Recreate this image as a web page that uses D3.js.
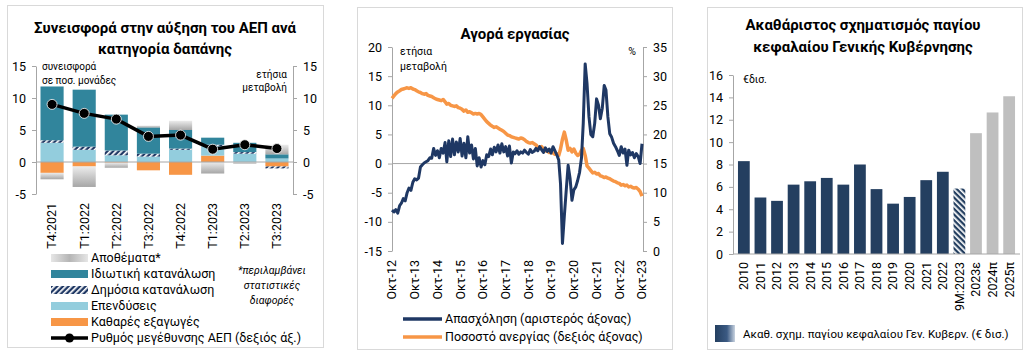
<!DOCTYPE html>
<html>
<head>
<meta charset="utf-8">
<script src="https://cdn.jsdelivr.net/npm/d3@7"></script>
<style>
  body { margin: 0; background: #fff; }
  text { font-family: Roboto, "Noto Sans", sans-serif; fill: #000; }
</style>
</head>
<body>
<svg id="chart" width="1029" height="353"></svg>
<script>
// ---- panel 1: contributions to GDP growth
const quarters = ['T4:2021', 'T1:2022', 'T2:2022', 'T3:2022', 'T4:2022', 'T1:2023', 'T2:2023', 'T3:2023'];
const netExports = [-1.7, -0.7, -0.1, -1.3, -2.0, 1.0, 0.0, -0.7];
const investment = [3.0, 1.9, 1.05, 0.85, 1.9, 1.5, 1.3, 0.55];
const publicCons = [0.4, 0.5, 0.75, 0.45, 0.2, 0.2, 0.25, -0.3];
const privateCons = [8.4, 8.9, 5.6, 4.1, 2.9, 1.1, 1.45, 0.65];
const inventories = [-1.0, -3.2, -0.8, 0.3, 1.45, -1.8, -0.25, 1.5];
const gdpGrowth = [9.0, 7.6, 6.7, 4.0, 4.2, 2.0, 2.7, 2.1];

// ---- panel 2: labour market, monthly Oct-12 .. Oct-23
const employment = [
  -8.0, -8.3, -7.9, -8.5, -7.2, -6.8, -6.0, -6.4, -5.0, -4.2, -4.6, -3.2,
  -2.6, -2.8, -2.5, -0.6, -0.2, 0.1, 0.3, 0.5, 1.0, 0.9, 2.6, 1.4,
  2.2, 1.0, 2.6, 1.8, 3.6, 0.3, 3.9, 1.2, 4.2, 1.5, 3.7, 2.0,
  4.3, 1.3, 3.5, 1.0, 4.6, 1.8, 3.2, 0.8, 2.6, -0.4, 1.0, -0.6,
  0.5, -0.2, 1.5, 1.2, 2.5, 1.5, 2.8, 2.0, 3.2, 1.8, 3.4, 2.0,
  2.9, 1.3, 3.0, 0.1, 2.0, 1.7, 2.2, 1.6, 2.0, 1.8, 2.3, 1.9,
  1.6, 2.4, 1.9, 2.1, 2.6, 2.2, 2.9, 2.4, 1.9, 2.7, 2.1, 2.5,
  1.8, 2.9, 2.2, 1.5, 0.6, -3.5, -13.7, -9.0, -4.5, -0.3, -2.5, -6.3,
  -4.5, -4.0, -2.9, -1.5, 1.0, 6.9, 17.1, 13.7, 8.0, 5.0, 4.6, 6.9,
  11.1, 10.0, 7.7, 9.5, 13.4, 12.6, 8.0, 5.1, 4.5, 3.5, 2.9, 2.2,
  1.4, 2.9, 1.8, 2.5, -0.3, 2.3, 1.5, 1.9, 1.0, 1.7, 1.2, 0.0,
  3.4
];
const unemployment = [
  26.2, 26.6, 27.0, 27.3, 27.5, 27.7, 27.8, 27.9, 28.0, 27.9, 28.0, 27.8,
  27.7, 27.5, 27.3, 27.2, 27.0, 26.9, 27.0, 26.7, 26.6, 26.5, 26.3, 26.1,
  26.0, 25.9, 25.8, 26.0, 25.6, 25.2, 25.3, 25.0, 24.9, 24.8, 24.9, 24.6,
  24.5, 24.3, 24.0, 24.2, 23.8, 23.9, 23.7, 23.5, 23.6, 23.5, 23.6, 23.4,
  23.0, 22.6, 22.2, 21.9, 21.6, 21.4, 21.2, 21.3, 21.1, 20.9, 20.7, 20.5,
  20.2, 19.9, 19.8, 19.6, 19.5, 19.4, 19.3, 19.2, 19.4, 19.3, 19.1, 18.8,
  18.6, 18.5, 18.6, 18.4, 18.2, 17.8, 17.6, 17.9, 17.5, 17.2, 17.1, 16.9,
  17.0, 16.8, 16.6, 16.7, 16.4, 17.5, 19.2, 20.4, 19.0, 17.3, 17.6, 17.0,
  17.5, 16.8, 16.4, 16.6, 17.3, 17.6, 16.4, 14.6, 14.2, 13.8, 13.4, 13.5,
  13.2, 13.3, 12.9, 12.8, 12.6, 12.7, 12.5, 12.4, 12.2, 12.0, 11.9, 11.7,
  11.6, 11.3, 11.4, 11.2, 11.3, 11.0, 11.1, 10.9, 10.8, 10.9, 10.6, 10.2,
  9.4
];
const labourTickYears = [2012, 2013, 2014, 2015, 2016, 2017, 2018, 2019, 2020, 2021, 2022, 2023];

// ---- panel 3: general government GFCF
const capexLabels = ['2010', '2011', '2012', '2013', '2014', '2015', '2016', '2017', '2018',
  '2019', '2020', '2021', '2022', '9M:2023', '2023ε', '2024π', '2025π'];
const capexValues = [8.3, 5.05, 4.75, 6.2, 6.5, 6.8, 6.2, 8.0, 5.8, 4.5, 5.1, 6.6, 7.35, 5.85, 10.8, 12.65, 14.1];

const svg = d3.select('#chart');
svg.append('rect').attr('width', 1029).attr('height', 353).attr('fill', '#fff');
const defs = svg.append('defs');

const hatch = (id, angle, bg) => {
  const p = defs.append('pattern').attr('id', id)
    .attr('patternUnits', 'userSpaceOnUse')
    .attr('width', 4).attr('height', 4)
    .attr('patternTransform', `rotate(${angle})`);
  p.append('rect').attr('width', 4).attr('height', 4).attr('fill', bg);
  p.append('rect').attr('width', 1.7).attr('height', 4).attr('fill', '#fff');
};
hatch('pubHatch', 45, '#1F3864');
hatch('capHatch', -45, '#243F60');

const grayGrad = defs.append('linearGradient').attr('id', 'grayGrad')
  .attr('x1', 0).attr('y1', 0).attr('x2', 0).attr('y2', 1);
grayGrad.append('stop').attr('offset', '0%').attr('stop-color', '#ececec');
grayGrad.append('stop').attr('offset', '100%').attr('stop-color', '#a6a6a6');

const grayGradH = defs.append('linearGradient').attr('id', 'grayGradH');
grayGradH.append('stop').attr('offset', '0%').attr('stop-color', '#e6e6e6');
grayGradH.append('stop').attr('offset', '50%').attr('stop-color', '#b5b5b5');
grayGradH.append('stop').attr('offset', '100%').attr('stop-color', '#e6e6e6');

const navyGrad = defs.append('linearGradient').attr('id', 'navyGrad');
navyGrad.append('stop').attr('offset', '0%').attr('stop-color', '#243F60');
navyGrad.append('stop').attr('offset', '60%').attr('stop-color', '#3b5a83');
navyGrad.append('stop').attr('offset', '100%').attr('stop-color', '#c9d3e0');

const axisGray = '#a6a6a6';
const styleAxis = g => {
  g.select('.domain').attr('stroke', axisGray);
  g.selectAll('.tick line').attr('stroke', axisGray);
  g.selectAll('.tick text').style('font-size', '12.5px').attr('fill', '#000');
};

// ================= panel 1 =================
const p1 = svg.append('g');
p1.append('rect').attr('x', 7.5).attr('y', 5.5).attr('width', 316).attr('height', 342)
  .attr('fill', 'none').attr('stroke', '#d9d9d9');
p1.append('text').attr('x', 165).attr('y', 33).attr('text-anchor', 'middle')
  .style('font-size', '15px').style('font-weight', 'bold').text('Συνεισφορά στην αύξηση του ΑΕΠ ανά');
p1.append('text').attr('x', 165).attr('y', 54).attr('text-anchor', 'middle')
  .style('font-size', '15px').style('font-weight', 'bold').text('κατηγορία δαπάνης');

const x1 = d3.scaleBand().domain(quarters).range([36, 293]).paddingInner(0.28).paddingOuter(0.14);
const y1 = d3.scaleLinear().domain([-5, 15]).range([194, 66]);

const p1Rows = quarters.map((q, i) => ({
  q, netExports: netExports[i], investment: investment[i], publicCons: publicCons[i],
  privateCons: privateCons[i], inventories: inventories[i]
}));
const p1Keys = ['netExports', 'investment', 'publicCons', 'privateCons', 'inventories'];
const p1Fill = {
  netExports: '#F79646', investment: '#93CDDD', publicCons: 'url(#pubHatch)',
  privateCons: '#31859C', inventories: 'url(#grayGrad)'
};
const stacked = d3.stack().keys(p1Keys).offset(d3.stackOffsetDiverging)(p1Rows);

p1.append('g').attr('transform', 'translate(36,0)')
  .call(d3.axisLeft(y1).tickValues([-5, 0, 5, 10, 15]).tickSize(4).tickSizeOuter(0).tickPadding(6).tickFormat(d => String(d)))
  .call(styleAxis);
p1.append('g').attr('transform', 'translate(293,0)')
  .call(d3.axisRight(y1).tickValues([-5, 0, 5, 10, 15]).tickSize(4).tickSizeOuter(0).tickPadding(6).tickFormat(d => String(d)))
  .call(styleAxis);

stacked.forEach(layer => {
  p1.append('g').selectAll('rect').data(layer).enter().append('rect')
    .attr('x', d => x1(d.data.q))
    .attr('width', x1.bandwidth())
    .attr('y', d => y1(Math.max(d[0], d[1])))
    .attr('height', d => Math.abs(y1(d[0]) - y1(d[1])))
    .attr('fill', p1Fill[layer.key]);
});

p1.append('line').attr('x1', 36).attr('x2', 293).attr('y1', y1(0)).attr('y2', y1(0))
  .attr('stroke', axisGray);

const gdpLine = d3.line().x((d, i) => x1(quarters[i]) + x1.bandwidth() / 2).y(d => y1(d));
p1.append('path').datum(gdpGrowth).attr('d', gdpLine)
  .attr('fill', 'none').attr('stroke', '#000').attr('stroke-width', 3.5);
p1.append('g').selectAll('circle').data(gdpGrowth).enter().append('circle')
  .attr('cx', (d, i) => x1(quarters[i]) + x1.bandwidth() / 2)
  .attr('cy', d => y1(d)).attr('r', 5)
  .attr('fill', '#000').attr('stroke', '#fff').attr('stroke-width', 0.8);

p1.append('text').attr('x', 42).attr('y', 70).style('font-size', '10px').text('συνεισφορά');
p1.append('text').attr('x', 42).attr('y', 84).style('font-size', '10px').text('σε ποσ. μονάδες');
p1.append('text').attr('x', 287).attr('y', 78).attr('text-anchor', 'end').style('font-size', '10px').text('ετήσια');
p1.append('text').attr('x', 287).attr('y', 91).attr('text-anchor', 'end').style('font-size', '10px').text('μεταβολή');

p1.append('g').selectAll('text').data(quarters).enter().append('text')
  .attr('transform', d => `translate(${x1(d) + x1.bandwidth() / 2},203) rotate(-90)`)
  .attr('text-anchor', 'end').attr('dy', '0.35em')
  .style('font-size', '12.5px').text(d => d);

const p1Legend = [
  { label: 'Αποθέματα*', fill: 'url(#grayGradH)' },
  { label: 'Ιδιωτική κατανάλωση', fill: '#31859C' },
  { label: 'Δημόσια κατανάλωση', fill: 'url(#pubHatch)' },
  { label: 'Επενδύσεις', fill: '#93CDDD' },
  { label: 'Καθαρές εξαγωγές', fill: '#F79646' }
];
const lg1 = p1.append('g');
p1Legend.forEach((d, i) => {
  const yy = 258 + i * 16;
  lg1.append('rect').attr('x', 51).attr('y', yy - 4).attr('width', 37).attr('height', 8).attr('fill', d.fill);
  lg1.append('text').attr('x', 91).attr('y', yy).attr('dy', '0.35em').style('font-size', '12.5px').text(d.label);
});
lg1.append('line').attr('x1', 51).attr('x2', 88).attr('y1', 338).attr('y2', 338)
  .attr('stroke', '#000').attr('stroke-width', 3.5);
lg1.append('circle').attr('cx', 69.5).attr('cy', 338).attr('r', 4.5).attr('fill', '#000');
lg1.append('text').attr('x', 91).attr('y', 338).attr('dy', '0.35em').style('font-size', '12.5px')
  .text('Ρυθμός μεγέθυνσης ΑΕΠ (δεξιός άξ.)');
['*περιλαμβάνει', 'στατιστικές', 'διαφορές'].forEach((t, i) => {
  lg1.append('text').attr('x', 272).attr('y', 274 + i * 15).attr('text-anchor', 'middle')
    .style('font-size', '10.5px').style('font-style', 'italic').text(t);
});

// ================= panel 2 =================
const p2 = svg.append('g');
p2.append('rect').attr('x', 357.5).attr('y', 7.5).attr('width', 315).attr('height', 342)
  .attr('fill', 'none').attr('stroke', '#d9d9d9');
p2.append('text').attr('x', 515).attr('y', 39).attr('text-anchor', 'middle')
  .style('font-size', '15px').style('font-weight', 'bold').text('Αγορά εργασίας');

const months = d3.timeMonth.range(new Date(2012, 9, 1), new Date(2023, 10, 1));
const x2 = d3.scaleTime().domain([months[0], months[months.length - 1]]).range([392, 642]);
const y2L = d3.scaleLinear().domain([-15, 20]).range([251, 47]);
const y2R = d3.scaleLinear().domain([0, 35]).range([251, 47]);

p2.append('g').attr('transform', 'translate(392,0)')
  .call(d3.axisLeft(y2L).tickValues(d3.range(-15, 21, 5)).tickSize(4).tickSizeOuter(0).tickPadding(6).tickFormat(d => String(d)))
  .call(styleAxis);
p2.append('g').attr('transform', 'translate(643,0)')
  .call(d3.axisRight(y2R).tickValues(d3.range(0, 36, 5)).tickSize(4).tickSizeOuter(0).tickPadding(6))
  .call(styleAxis);
p2.append('line').attr('x1', 392).attr('x2', 643).attr('y1', y2L(0)).attr('y2', y2L(0))
  .attr('stroke', axisGray);

const octTicks = labourTickYears.map(y => new Date(y, 9, 1));
p2.append('g').selectAll('text').data(octTicks).enter().append('text')
  .attr('transform', d => `translate(${x2(d)},260) rotate(-90)`)
  .attr('text-anchor', 'end').attr('dy', '0.35em')
  .style('font-size', '12.5px').text(d => 'Οκτ-' + d3.timeFormat('%y')(d));

p2.append('path').datum(unemployment)
  .attr('d', d3.line().x((d, i) => x2(months[i])).y(d => y2R(d)))
  .attr('fill', 'none').attr('stroke', '#F79646').attr('stroke-width', 3.5).attr('stroke-linejoin', 'round');
p2.append('path').datum(employment)
  .attr('d', d3.line().x((d, i) => x2(months[i])).y(d => y2L(d)))
  .attr('fill', 'none').attr('stroke', '#1F3864').attr('stroke-width', 3).attr('stroke-linejoin', 'round');

p2.append('text').attr('x', 400).attr('y', 55).style('font-size', '10.5px').text('ετήσια');
p2.append('text').attr('x', 400).attr('y', 70).style('font-size', '10.5px').text('μεταβολή');
p2.append('text').attr('x', 636).attr('y', 55).attr('text-anchor', 'end').style('font-size', '10.5px').text('%');

[{ label: 'Απασχόληση (αριστερός άξονας)', color: '#1F3864', y: 319 },
 { label: 'Ποσοστό ανεργίας (δεξιός άξονας)', color: '#F79646', y: 337 }].forEach(d => {
  p2.append('line').attr('x1', 403).attr('x2', 442).attr('y1', d.y).attr('y2', d.y)
    .attr('stroke', d.color).attr('stroke-width', 3.5);
  p2.append('text').attr('x', 445).attr('y', d.y).attr('dy', '0.35em').style('font-size', '12.5px').text(d.label);
});

// ================= panel 3 =================
const p3 = svg.append('g');
p3.append('rect').attr('x', 707.5).attr('y', 7.5).attr('width', 315).attr('height', 342)
  .attr('fill', 'none').attr('stroke', '#d9d9d9');
p3.append('text').attr('x', 863).attr('y', 30).attr('text-anchor', 'middle')
  .style('font-size', '15px').style('font-weight', 'bold').text('Ακαθάριστος σχηματισμός παγίου');
p3.append('text').attr('x', 863).attr('y', 52).attr('text-anchor', 'middle')
  .style('font-size', '15px').style('font-weight', 'bold').text('κεφαλαίου Γενικής Κυβέρνησης');

const x3 = d3.scaleBand().domain(capexLabels).range([733, 1020]).paddingInner(0.29).paddingOuter(0.3);
const y3 = d3.scaleLinear().domain([0, 16]).range([254, 75]);

p3.append('g').attr('transform', 'translate(733,0)')
  .call(d3.axisLeft(y3).tickValues(d3.range(0, 17, 2)).tickSize(4).tickSizeOuter(0).tickPadding(6))
  .call(styleAxis);

p3.append('g').selectAll('rect').data(capexLabels).enter().append('rect')
  .attr('x', d => x3(d)).attr('width', x3.bandwidth())
  .attr('y', (d, i) => y3(capexValues[i]))
  .attr('height', (d, i) => y3(0) - y3(capexValues[i]))
  .attr('fill', (d, i) => i < 13 ? '#243F60' : (i === 13 ? 'url(#capHatch)' : '#BFBFBF'));

p3.append('line').attr('x1', 733).attr('x2', 1020).attr('y1', y3(0)).attr('y2', y3(0))
  .attr('stroke', axisGray);

p3.append('g').selectAll('text').data(capexLabels).enter().append('text')
  .attr('transform', d => `translate(${x3(d) + x3.bandwidth() / 2},262) rotate(-90)`)
  .attr('text-anchor', 'end').attr('dy', '0.35em')
  .style('font-size', '12.5px').text(d => d);

p3.append('text').attr('x', 743).attr('y', 83).style('font-size', '10.5px').text('€δισ.');

p3.append('rect').attr('x', 715).attr('y', 325).attr('width', 20).attr('height', 17).attr('fill', 'url(#navyGrad)');
p3.append('text').attr('x', 743).attr('y', 334).attr('dy', '0.35em').style('font-size', '11.5px')
  .text('Ακαθ. σχημ. παγίου κεφαλαίου Γεν. Κυβερν. (€ δισ.)');
</script>
</body>
</html>
